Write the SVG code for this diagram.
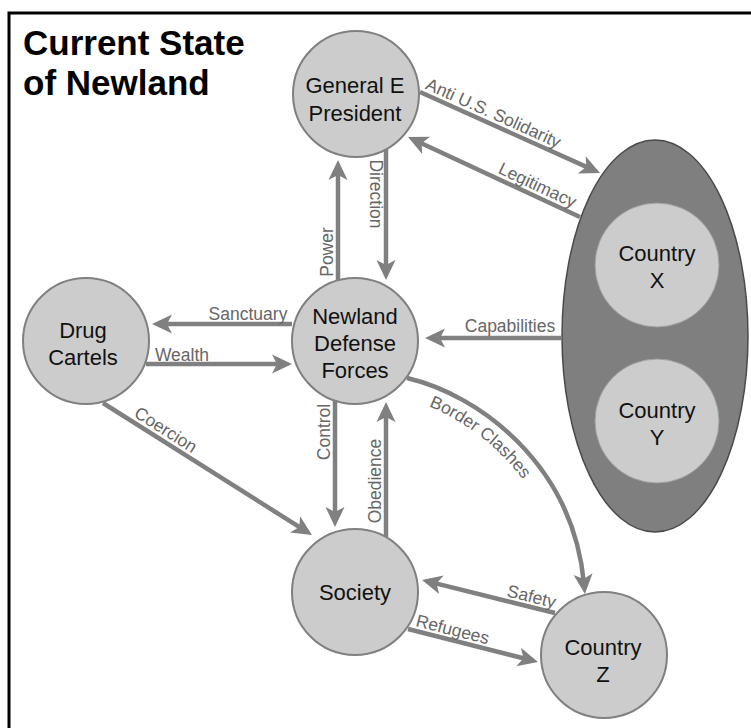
<svg xmlns="http://www.w3.org/2000/svg" width="751" height="728" viewBox="0 0 751 728">
<style>
.node{fill:#cccccc;stroke:#808080;stroke-width:2}
.inner{fill:#cccccc;stroke:#a0a0a0;stroke-width:1}
.nt{font-family:"Liberation Sans",Arial,sans-serif;font-size:22px;fill:#111;text-anchor:middle}
.title{font-family:"Liberation Sans",Arial,sans-serif;font-size:35px;font-weight:bold;fill:#000}
.conn{fill:none;stroke:#808080;stroke-width:4.5;marker-end:url(#ah)}
.lbl{font-family:"Liberation Sans",Arial,sans-serif;font-size:17.5px;fill:#666;text-anchor:middle}
</style>
<defs>
<marker id="ah" markerUnits="userSpaceOnUse" markerWidth="22" markerHeight="22" viewBox="0 0 22 22" refX="10" refY="11" orient="auto">
<path d="M0,1.5 L20,11 L0,20.5 L5,11 Z" fill="#808080"/>
</marker>
<path id="bcpath" d="M 402,398 C 472,414 557,483 565,594"/>
</defs>
<rect x="0" y="0" width="751" height="728" fill="#ffffff"/>
<path d="M9,728 L9,13 L751,13" fill="none" stroke="#000" stroke-width="3"/>
<g id="title">
<text class="title" x="23" y="55">Current State</text>
<text class="title" x="23" y="95">of Newland</text>
</g>
<g id="node-countries-xy">
<ellipse cx="655" cy="336" rx="93" ry="196" fill="#7f7f7f" stroke="#4a4a4a" stroke-width="1.5"/>
</g>
<g id="node-country-x">
<circle class="inner" cx="657" cy="265" r="62"/>
<text class="nt" x="657" y="261">Country</text>
<text class="nt" x="657" y="288">X</text>
</g>
<g id="node-country-y">
<circle class="inner" cx="657" cy="421" r="62"/>
<text class="nt" x="657" y="418">Country</text>
<text class="nt" x="657" y="445">Y</text>
</g>
<g id="node-general">
<circle class="node" cx="356" cy="94" r="63"/>
<text class="nt" x="355" y="93">General E</text>
<text class="nt" x="355" y="121">President</text>
</g>
<g id="node-ndf">
<circle class="node" cx="355" cy="341" r="63"/>
<text class="nt" x="355" y="324">Newland</text>
<text class="nt" x="355" y="351">Defense</text>
<text class="nt" x="355" y="378">Forces</text>
</g>
<g id="node-cartels">
<circle class="node" cx="86" cy="341" r="63"/>
<text class="nt" x="83" y="338">Drug</text>
<text class="nt" x="83" y="365">Cartels</text>
</g>
<g id="node-society">
<circle class="node" cx="355" cy="592" r="63"/>
<text class="nt" x="355" y="600">Society</text>
</g>
<g id="node-country-z">
<circle class="node" cx="604" cy="655" r="63"/>
<text class="nt" x="603" y="655">Country</text>
<text class="nt" x="603" y="682">Z</text>
</g>
<g id="connectors">
<path class="conn" d="M338,280 L338,170"/>
<path class="conn" d="M386,149 L386,270"/>
<path class="conn" d="M420,92 L590.9,168.9"/>
<path class="conn" d="M580,217 L417.1,141.2"/>
<path class="conn" d="M292,324 L162,324"/>
<path class="conn" d="M146,364 L282,364"/>
<path class="conn" d="M562,338 L435,338"/>
<path class="conn" d="M103,403 L303.5,529.7"/>
<path class="conn" d="M335,400 L335,517"/>
<path class="conn" d="M386,537 L386,412"/>
<path class="conn" d="M407,378 C480,395 573,465 584,584"/>
<path class="conn" d="M555,613 L431.7,582.4"/>
<path class="conn" d="M408,629 L528.3,659.5"/>
</g>
<g id="labels">
<text class="lbl" transform="translate(338,252) rotate(-90)" x="0" y="-5">Power</text>
<text class="lbl" transform="translate(386,194) rotate(90)" x="0" y="16.5">Direction</text>
<text class="lbl" transform="translate(489,123) rotate(24.2)" x="0" y="-5">Anti U.S. Solidarity</text>
<text class="lbl" transform="translate(533,195) rotate(24.9)" x="0" y="-5">Legitimacy</text>
<text class="lbl" x="248" y="320">Sanctuary</text>
<text class="lbl" x="182" y="361">Wealth</text>
<text class="lbl" x="510" y="332">Capabilities</text>
<text class="lbl" transform="translate(160,439) rotate(32.3)" x="0" y="-5">Coercion</text>
<text class="lbl" transform="translate(335,432) rotate(-90)" x="0" y="-5">Control</text>
<text class="lbl" transform="translate(386,481) rotate(-90)" x="0" y="-5">Obedience</text>
<text class="lbl" style="text-anchor:start"><textPath href="#bcpath" startOffset="28">Border Clashes</textPath></text>
<text class="lbl" transform="translate(529,607) rotate(13.9)" x="0" y="-5">Safety</text>
<text class="lbl" transform="translate(450,640) rotate(14.2)" x="0" y="-5">Refugees</text>
</g>
</svg>
